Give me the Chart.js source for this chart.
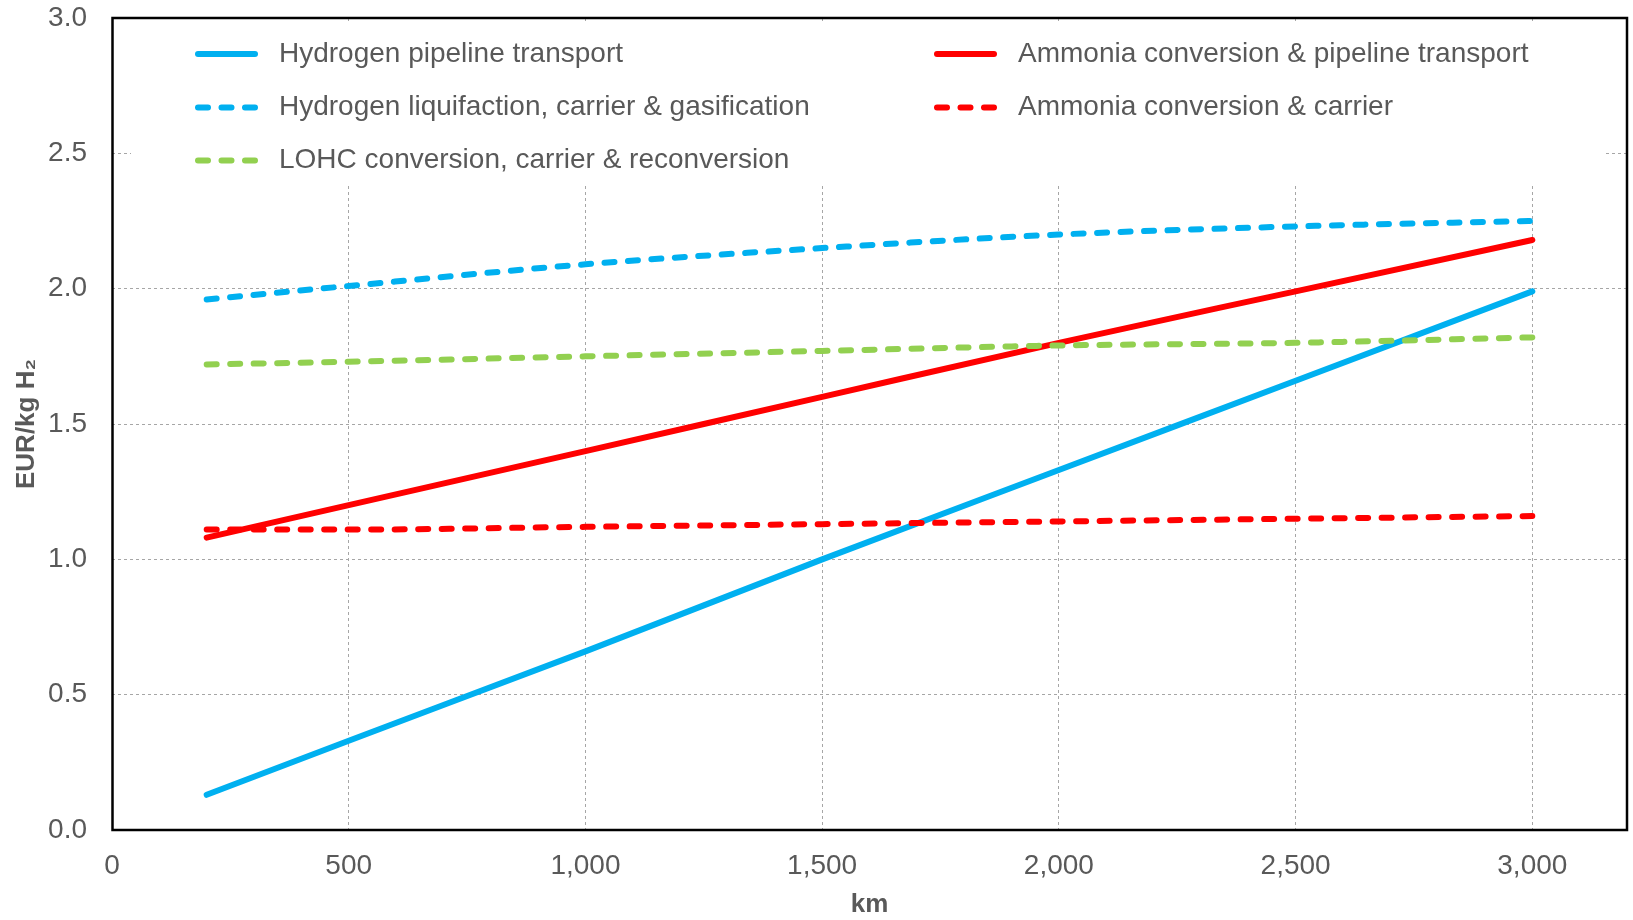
<!DOCTYPE html>
<html>
<head>
<meta charset="utf-8">
<script src="https://cdn.jsdelivr.net/npm/chart.js@4.4.0/dist/chart.umd.min.js"></script>
<style>
html,body{margin:0;padding:0;background:#ffffff;overflow:hidden}
canvas{display:block}
</style>
</head>
<body>
<canvas id="c" width="1633" height="920"></canvas>
<script>
// ---- data ----
const distanceKm = [200, 500, 1000, 1500, 2000, 2500, 3000];
const h2Pipeline = [0.13, 0.33, 0.66, 1.00, 1.33, 1.66, 1.99];
const h2Liquid   = [1.96, 2.01, 2.09, 2.15, 2.20, 2.23, 2.25];
const lohc       = [1.72, 1.73, 1.75, 1.77, 1.79, 1.80, 1.82];
const nh3Pipeline= [1.08, 1.20, 1.40, 1.60, 1.80, 1.99, 2.18];
const nh3Carrier = [1.11, 1.11, 1.12, 1.13, 1.14, 1.15, 1.16];

const seriesLabels = [
  'Hydrogen pipeline transport',
  'Hydrogen liquifaction, carrier & gasification',
  'LOHC conversion, carrier & reconversion',
  'Ammonia conversion & pipeline transport',
  'Ammonia conversion & carrier'
];
const xTickValues = [0, 500, 1000, 1500, 2000, 2500, 3000];
const yTickValues = [0, 0.5, 1.0, 1.5, 2.0, 2.5, 3.0];
const xTitle = 'km';
const yTitle = 'EUR/kg H\u2082';

// ---- styles ----
const FONT = "'Liberation Sans', Arial, Helvetica, sans-serif";
const TEXT = '#595959';
const BLUE = '#00B0F0', RED = '#FF0000', GREEN = '#92D050';
const DASH = [10, 13.5];
const LW = 6;

function pts(arr) { return distanceKm.map((x, i) => ({x: x, y: arr[i]})); }

const datasets = [
  {label: seriesLabels[0], data: pts(h2Pipeline), borderColor: BLUE, borderDash: [], order: 4},
  {label: seriesLabels[1], data: pts(h2Liquid), borderColor: BLUE, borderDash: DASH, order: 2},
  {label: seriesLabels[2], data: pts(lohc), borderColor: GREEN, borderDash: DASH, order: 1},
  {label: seriesLabels[3], data: pts(nh3Pipeline), borderColor: RED, borderDash: [], order: 3},
  {label: seriesLabels[4], data: pts(nh3Carrier), borderColor: RED, borderDash: DASH, order: 0}
].map(d => Object.assign(d, {
  borderWidth: LW,
  borderCapStyle: 'round',
  borderJoinStyle: 'round',
  pointRadius: 0,
  pointHoverRadius: 0,
  fill: false,
  cubicInterpolationMode: 'monotone',
  backgroundColor: d.borderColor
}));

// legend placement: [column, row]
const legendSlots = [[0,0],[0,1],[0,2],[1,0],[1,1]];

const insideLegend = {
  id: 'insideLegend',
  beforeDatasetsDraw(chart) {
    const {ctx, chartArea: a} = chart;
    ctx.save();
    ctx.fillStyle = '#ffffff';
    ctx.fillRect(a.left + 19, a.top + 3, (a.right - 23) - (a.left + 19), 185 - (a.top + 3));
    const colX = [195, 934];
    const rowY = [54, 107.5, 160.5];
    chart.data.datasets.forEach((ds, i) => {
      const [c, r] = legendSlots[i];
      const x = colX[c], y = rowY[r];
      ctx.beginPath();
      ctx.lineWidth = LW;
      ctx.lineCap = 'round';
      ctx.strokeStyle = ds.borderColor;
      ctx.setLineDash(ds.borderDash || []);
      ctx.moveTo(x + 3, y);
      ctx.lineTo(x + 60, y);
      ctx.stroke();
      ctx.setLineDash([]);
      ctx.fillStyle = TEXT;
      ctx.font = '28px ' + FONT;
      ctx.textBaseline = 'middle';
      ctx.textAlign = 'left';
      ctx.fillText(ds.label, x + 84, y);
    });
    ctx.restore();
  },
  afterDatasetsDraw(chart) {
    const {ctx, chartArea: a} = chart;
    ctx.save();
    ctx.strokeStyle = '#000000';
    ctx.lineWidth = 2.5;
    ctx.setLineDash([]);
    ctx.strokeRect(a.left + 0.5, a.top, a.right - a.left - 0.5, a.bottom - a.top);
    ctx.restore();
  }
};

const tickFont = {family: FONT, size: 28};
const titleFont = {family: FONT, size: 26, weight: 'bold'};

function noPad(s) {
  s.paddingTop = 0; s.paddingBottom = 0; s.paddingLeft = 0; s.paddingRight = 0;
}

new Chart(document.getElementById('c'), {
  type: 'line',
  data: {datasets: datasets},
  options: {
    responsive: false,
    animation: false,
    devicePixelRatio: 1,
    layout: {padding: {top: 18, right: 6, left: 0, bottom: 0}},
    plugins: {legend: {display: false}, tooltip: {enabled: false}},
    scales: {
      x: {
        type: 'linear',
        min: 0,
        max: 3200,
        afterBuildTicks: s => { s.ticks = xTickValues.map(v => ({value: v})); },
        afterFit: s => { s.height = 90; noPad(s); },
        ticks: {
          font: tickFont, color: TEXT, padding: 19, maxRotation: 0, autoSkip: false,
          callback: v => Number(v).toLocaleString('en-US')
        },
        grid: {color: '#a6a6a6', lineWidth: 1, drawTicks: false},
        border: {display: false, dash: [3, 3]},
        title: {display: true, text: xTitle, font: titleFont, color: TEXT, padding: {top: 0, bottom: 0}}
      },
      y: {
        type: 'linear',
        min: 0,
        max: 3,
        afterBuildTicks: s => { s.ticks = yTickValues.map(v => ({value: v})); },
        afterFit: s => { s.width = 112; noPad(s); },
        ticks: {
          font: tickFont, color: TEXT, padding: 25,
          callback: v => Number(v).toFixed(1)
        },
        grid: {color: '#a6a6a6', lineWidth: 1, drawTicks: false},
        border: {display: false, dash: [3, 3]},
        title: {display: true, text: yTitle, font: titleFont, color: TEXT, padding: {top: 11, bottom: 0}}
      }
    }
  },
  plugins: [insideLegend]
});
</script>
</body>
</html>
